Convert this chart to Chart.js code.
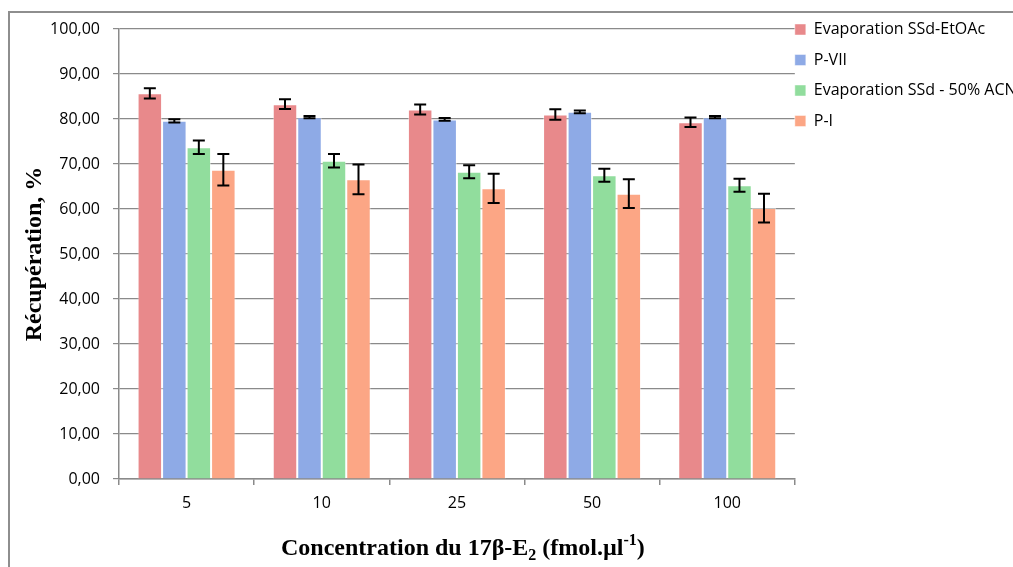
<!DOCTYPE html>
<html>
<head>
<meta charset="utf-8">
<script src="https://cdn.jsdelivr.net/npm/chart.js@4"></script>
<style>
  html, body { margin: 0; padding: 0; background: #fff; overflow: hidden; }
  #frame { position: absolute; left: 8px; top: 11px; width: 1100px; height: 600px; border: 2px solid #8e8e8e; }
  #wrap { position: absolute; left: 0; top: 0; width: 1041px; height: 567px; }
</style>
</head>
<body>
<div id="frame"></div>
<div id="wrap"><canvas id="barChart"></canvas></div>
<script>
// categories (concentration, fmol/µl)
var concentrations = ["5", "10", "25", "50", "100"];

// recovery values, %
var ssdEtOAc = [85.7, 83.3, 82.1, 81.0, 79.3];
var pVII = [79.6, 80.4, 79.9, 81.6, 80.4];
var ssdAcn = [73.7, 70.7, 68.3, 67.5, 65.3];
var pI = [68.7, 66.6, 64.6, 63.4, 60.2];

// standard deviations for error bars
var ssdEtOAcErr = [1.15, 1.1, 1.1, 1.15, 1.05];
var pVIIErr = [0.35, 0.25, 0.3, 0.3, 0.25];
var ssdAcnErr = [1.5, 1.5, 1.45, 1.45, 1.45];
var pIErr = [3.5, 3.3, 3.25, 3.2, 3.2];

var font = "'Open Sans', sans-serif";
var gridColor = "#8a8a8a";

// draws the black error bars on top of each bar
var errorBars = {
  id: "errorBars",
  afterDatasetsDraw: function(chart) {
    var ctx = chart.ctx;
    var y = chart.scales.y;
    ctx.save();
    ctx.strokeStyle = "#000";
    ctx.lineWidth = 2;
    chart.data.datasets.forEach(function(ds, i) {
      chart.getDatasetMeta(i).data.forEach(function(bar, j) {
        var top = y.getPixelForValue(ds.data[j] + ds.errors[j]);
        var bot = y.getPixelForValue(ds.data[j] - ds.errors[j]);
        ctx.beginPath();
        ctx.moveTo(bar.x, top); ctx.lineTo(bar.x, bot);
        ctx.moveTo(bar.x - 6, top); ctx.lineTo(bar.x + 6, top);
        ctx.moveTo(bar.x - 6, bot); ctx.lineTo(bar.x + 6, bot);
        ctx.stroke();
      });
    });
    ctx.restore();
  }
};

// x axis title with subscript / superscript
var xTitle = {
  id: "xTitle",
  afterDraw: function(chart) {
    var ctx = chart.ctx;
    var parts = [
      ["Concentration du 17β-E", 24, 0],
      ["2", 16, 5],
      [" (fmol.µl", 24, 0],
      ["-1", 16, -10],
      [")", 24, 0]
    ];
    ctx.save();
    ctx.fillStyle = "#000";
    ctx.textBaseline = "alphabetic";
    var total = 0;
    parts.forEach(function(p) {
      ctx.font = "bold " + p[1] + "px 'Liberation Serif', serif";
      p.push(ctx.measureText(p[0]).width);
      total += p[3];
    });
    var area = chart.chartArea;
    var x = (area.left + area.right) / 2 + 6 - total / 2;
    var base = area.bottom + 76;
    parts.forEach(function(p) {
      ctx.font = "bold " + p[1] + "px 'Liberation Serif', serif";
      ctx.fillText(p[0], x, base + p[2]);
      x += p[3];
    });
    ctx.restore();
  }
};

// put the legend right against the plot area, level with the top
var placeLegend = {
  id: "placeLegend",
  afterLayout: function(chart) {
    var lg = chart.legend;
    var pad = lg.options.labels.padding;
    lg.left = chart.chartArea.right - pad;
    lg.right = lg.left + lg.width;
    lg.top = chart.chartArea.top - 22;
    lg.bottom = lg.top + lg.height;
  }
};

var data = {
  labels: concentrations,
  datasets: [
    { label: "Evaporation SSd-EtOAc", data: ssdEtOAc, errors: ssdEtOAcErr, backgroundColor: "#E8898B" },
    { label: "P-VII", data: pVII, errors: pVIIErr, backgroundColor: "#8EAAE6" },
    { label: "Evaporation SSd - 50% ACN", data: ssdAcn, errors: ssdAcnErr, backgroundColor: "#91DD9D" },
    { label: "P-I", data: pI, errors: pIErr, backgroundColor: "#FCA685" }
  ]
};
data.datasets.forEach(function(ds) {
  ds.borderColor = "rgba(255,255,255,0.45)";
  ds.borderWidth = 1;
  ds.categoryPercentage = 0.725;
  ds.barPercentage = 1;
});

var config = {
  type: "bar",
  data: data,
  options: {
    responsive: true,
    maintainAspectRatio: false,
    animation: false,
    layout: { padding: { top: 29, left: 0, right: 0, bottom: 0 } },
    plugins: {
      tooltip: { enabled: false },
      legend: {
        position: "right",
        align: "start",
        labels: {
          boxWidth: 11,
          boxHeight: 11,
          padding: 14.5,
          color: "#000",
          font: { family: font, size: 16 }
        }
      }
    },
    scales: {
      x: {
        afterFit: function(s) { s.height = 88; },
        grid: { offset: true, drawOnChartArea: false, tickLength: 6, color: gridColor, lineWidth: 1.5 },
        border: { color: gridColor, width: 1.5 },
        ticks: { color: "#000", padding: 9, font: { family: font, size: 16 } }
      },
      y: {
        min: 0,
        max: 100,
        afterFit: function(s) { s.width = 119; },
        grid: { color: gridColor, lineWidth: 1.2, tickLength: 6 },
        border: { color: gridColor, width: 1.5 },
        ticks: {
          stepSize: 10,
          padding: 13,
          color: "#000",
          font: { family: font, size: 16 },
          callback: function(v) { return v.toFixed(2).replace(".", ","); }
        },
        title: {
          display: true,
          text: "Récupération, %",
          color: "#000",
          padding: { top: 20, bottom: 0 },
          font: { family: "'Liberation Serif', serif", size: 24, weight: "bold" }
        }
      }
    }
  },
  plugins: [errorBars, xTitle, placeLegend]
};

var ctx = document.getElementById("barChart").getContext("2d");
new Chart(ctx, config);
</script>
</body>
</html>
